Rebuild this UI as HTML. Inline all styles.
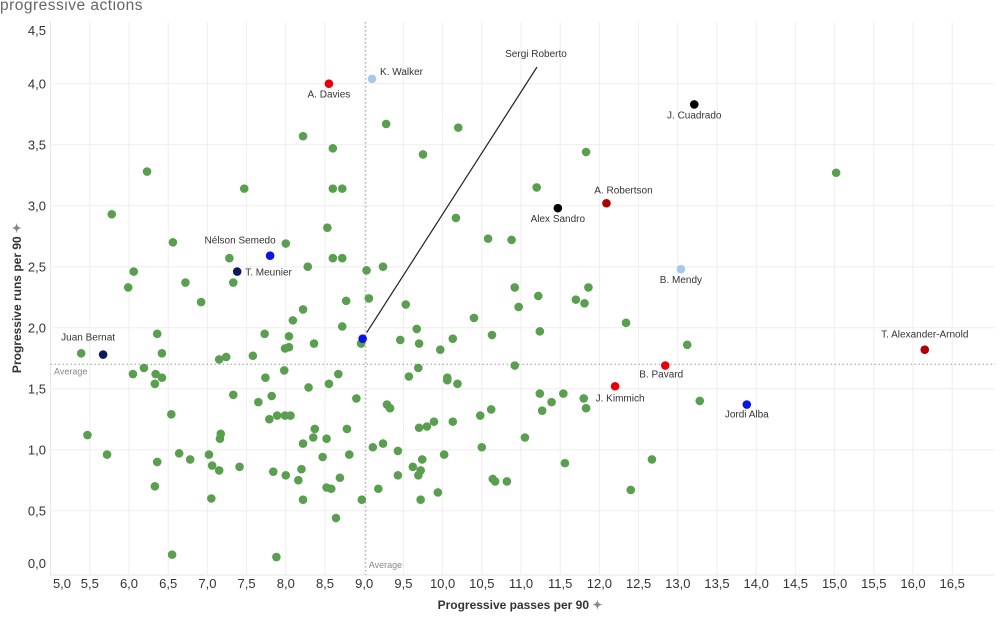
<!DOCTYPE html>
<html><head><meta charset="utf-8"><style>
body{margin:0;background:#fff;width:1000px;height:617px;overflow:hidden;font-family:"Liberation Sans",sans-serif}
svg{display:block}
</style></head><body>
<svg id="chart" width="1000" height="617">
<text x="0" y="10" font-size="15.5" letter-spacing="0.5" fill="#666">progressive actions</text>
<g id="grid"></g><g id="axes"></g><g id="marks"></g>
<text x="520" y="609" font-size="12" font-weight="bold" fill="#333" text-anchor="middle">Progressive passes per 90 <tspan fill="#888">✦</tspan></text>
<text transform="translate(21,298) rotate(-90)" font-size="12" font-weight="bold" fill="#333" text-anchor="middle">Progressive runs per 90 <tspan fill="#888">✦</tspan></text>
</svg>
<script>
const xTicks=[5.0,5.5,6.0,6.5,7.0,7.5,8.0,8.5,9.0,9.5,10.0,10.5,11.0,11.5,12.0,12.5,13.0,13.5,14.0,14.5,15.0,15.5,16.0,16.5];
const yTicks=[0,0.5,1.0,1.5,2.0,2.5,3.0,3.5,4.0,4.5];
const avgX=9.02;
const avgY=1.70;
const greenX=[8.22,8.6,9.28,10.2,9.75,11.83,6.23,7.47,8.6,8.72,11.2,15.02,5.78,10.17,8.53,6.56,8.0,10.58,10.88,6.06,7.28,8.6,8.72,8.28,9.24,9.03,5.99,6.72,7.33,6.92,8.77,8.22,8.09,9.06,9.53,10.92,10.97,11.86,11.22,11.7,11.81,10.4,12.34,6.36,7.73,8.72,9.67,8.04,8.36,8.96,5.39,6.42,7.15,7.24,7.58,7.99,8.04,6.05,6.19,6.34,6.42,6.33,7.74,7.98,8.67,8.55,8.29,8.9,7.33,7.65,7.82,6.54,7.79,7.89,7.99,8.06,8.37,8.78,8.35,8.52,8.22,5.47,7.17,7.16,9.11,5.72,6.64,6.78,7.02,6.36,8.47,8.81,7.06,7.15,7.41,7.84,8.0,8.2,8.16,8.69,8.52,8.58,6.33,7.05,8.22,8.97,8.64,6.55,7.88,9.18,11.24,9.46,9.7,10.13,10.63,9.97,13.12,10.92,9.69,9.57,10.06,10.06,10.19,9.29,9.33,11.24,11.39,11.54,11.27,11.8,11.83,10.48,10.62,9.7,9.8,9.89,10.13,11.05,9.24,9.43,10.02,10.5,11.56,12.67,9.62,9.74,9.72,9.69,9.43,10.64,10.67,10.82,9.94,9.72,12.4,13.28];
const greenY=[3.57,3.47,3.67,3.64,3.42,3.44,3.28,3.14,3.14,3.14,3.15,3.27,2.93,2.90,2.82,2.70,2.69,2.73,2.72,2.46,2.57,2.57,2.57,2.5,2.5,2.47,2.33,2.37,2.37,2.21,2.22,2.15,2.06,2.24,2.19,2.33,2.17,2.33,2.26,2.23,2.2,2.08,2.04,1.95,1.95,2.01,1.99,1.93,1.87,1.87,1.79,1.79,1.74,1.76,1.77,1.83,1.84,1.62,1.67,1.62,1.59,1.54,1.59,1.65,1.62,1.54,1.51,1.42,1.45,1.39,1.44,1.29,1.25,1.28,1.28,1.28,1.17,1.17,1.10,1.09,1.05,1.12,1.13,1.09,1.02,0.96,0.97,0.92,0.96,0.90,0.94,0.96,0.87,0.83,0.86,0.82,0.79,0.84,0.75,0.77,0.69,0.68,0.70,0.6,0.59,0.59,0.44,0.14,0.12,0.68,1.97,1.90,1.87,1.91,1.94,1.82,1.86,1.69,1.67,1.6,1.59,1.57,1.54,1.37,1.34,1.46,1.39,1.46,1.32,1.42,1.34,1.28,1.33,1.18,1.19,1.23,1.23,1.10,1.05,0.99,0.96,1.02,0.89,0.92,0.86,0.92,0.83,0.79,0.79,0.76,0.74,0.74,0.65,0.59,0.67,1.40];
const namedPlayers=["A. Davies","K. Walker","J. Cuadrado","A. Robertson","Alex Sandro","B. Mendy","Nélson Semedo","T. Meunier","Juan Bernat","Sergi Roberto","T. Alexander-Arnold","B. Pavard","J. Kimmich","Jordi Alba"];
const namedX=[8.55,9.1,13.21,12.09,11.47,13.04,7.8,7.38,5.67,8.98,16.15,12.84,12.2,13.88];
const namedY=[4.00,4.04,3.83,3.02,2.98,2.48,2.59,2.46,1.78,1.91,1.82,1.69,1.52,1.37];
const namedColor=["#e8000b","#a6c8ec","#000","#b00000","#000","#a6c8ec","#0a14e6","#0a1a5e","#0a1a5e","#0a14e6","#b00000","#e8000b","#e8000b","#0a14e6"];
const labDx=[0,8,0,17,0,0,-30,8,-15,0,0,-4,5,0];
const labDy=[14,-4,14,-10,14,14,-12,4,-14,0,-12,12,15,13];
const labAnchor=["middle","start","middle","middle","middle","middle","middle","start","middle","middle","middle","middle","middle","middle"];

const L=50.6,R=995,T=22,B=575;
const sx=v=>L+(v-5)*78.4;
const sy=v=>571.7-v*122;
const NS="http://www.w3.org/2000/svg";
function mk(tag,attrs,parent,txt){const e=document.createElementNS(NS,tag);for(const k in attrs)e.setAttribute(k,attrs[k]);if(txt!==undefined)e.textContent=txt;parent.appendChild(e);return e;}
const grid=document.getElementById('grid'),axes=document.getElementById('axes'),marks=document.getElementById('marks');
mk('line',{x1:L,y1:T,x2:L,y2:B,stroke:'#e4e4e4'},grid);
mk('line',{x1:L,y1:B,x2:R,y2:B,stroke:'#e4e4e4'},grid);
xTicks.forEach((t,i)=>{
  if(t>5){const g=mk('line',{x1:sx(t),y1:T,x2:sx(t),y2:B,stroke:'#eeeeee'},grid);
  
  }
  const lx=t===5?62:sx(t);
  const e=mk('text',{x:lx,y:588,'font-size':13,fill:'#333','text-anchor':'middle'},axes,t.toFixed(1).replace('.',','));
  
  
});
yTicks.forEach(t=>{
  if(t>0&&t<4.5){const g=mk('line',{x1:L,y1:sy(t),x2:R,y2:sy(t),stroke:'#eeeeee'},grid);
  
  }
  let ly=sy(t)+5; if(t===0)ly=568; if(t===4.5)ly=35;
  const e=mk('text',{x:46,y:ly,'font-size':13,fill:'#333','text-anchor':'end'},axes,t.toFixed(1).replace('.',','));
  
  
});
const av1=mk('line',{x1:sx(avgX),y1:T,x2:sx(avgX),y2:B,stroke:'#999','stroke-dasharray':'1.5,2.5'},grid);


const av2=mk('line',{x1:L,y1:sy(avgY),x2:R,y2:sy(avgY),stroke:'#999','stroke-dasharray':'1.5,2.5'},grid);


const at1=mk('text',{x:sx(avgX)+3,y:568,'font-size':9,fill:'#888'},grid,'Average');


const at2=mk('text',{x:54,y:sy(avgY)+10,'font-size':9,fill:'#888'},grid,'Average');



greenX.forEach((x,i)=>{
  const c=mk('circle',{cx:sx(x),cy:sy(greenY[i]),r:4.3,fill:'#5a9e4f'},marks);
  
  
});
const si=namedPlayers.indexOf("Sergi Roberto");
const ll=mk('line',{x1:sx(namedX[si])+4,y1:sy(namedY[si])-6,x2:537,y2:67,stroke:'#222','stroke-width':1.2},marks);


namedPlayers.forEach((n,i)=>{
  const c=mk('circle',{cx:sx(namedX[i]),cy:sy(namedY[i]),r:4.3,fill:namedColor[i]},marks);
  
  
  let tx=sx(namedX[i])+labDx[i], ty=sy(namedY[i])+labDy[i];
  if(n==="Sergi Roberto"){tx=536;ty=57;}
  const t=mk('text',{x:tx,y:ty,'font-size':10,fill:'#333','text-anchor':labAnchor[i]},marks,n);
  
  
});
</script>
</body></html>
